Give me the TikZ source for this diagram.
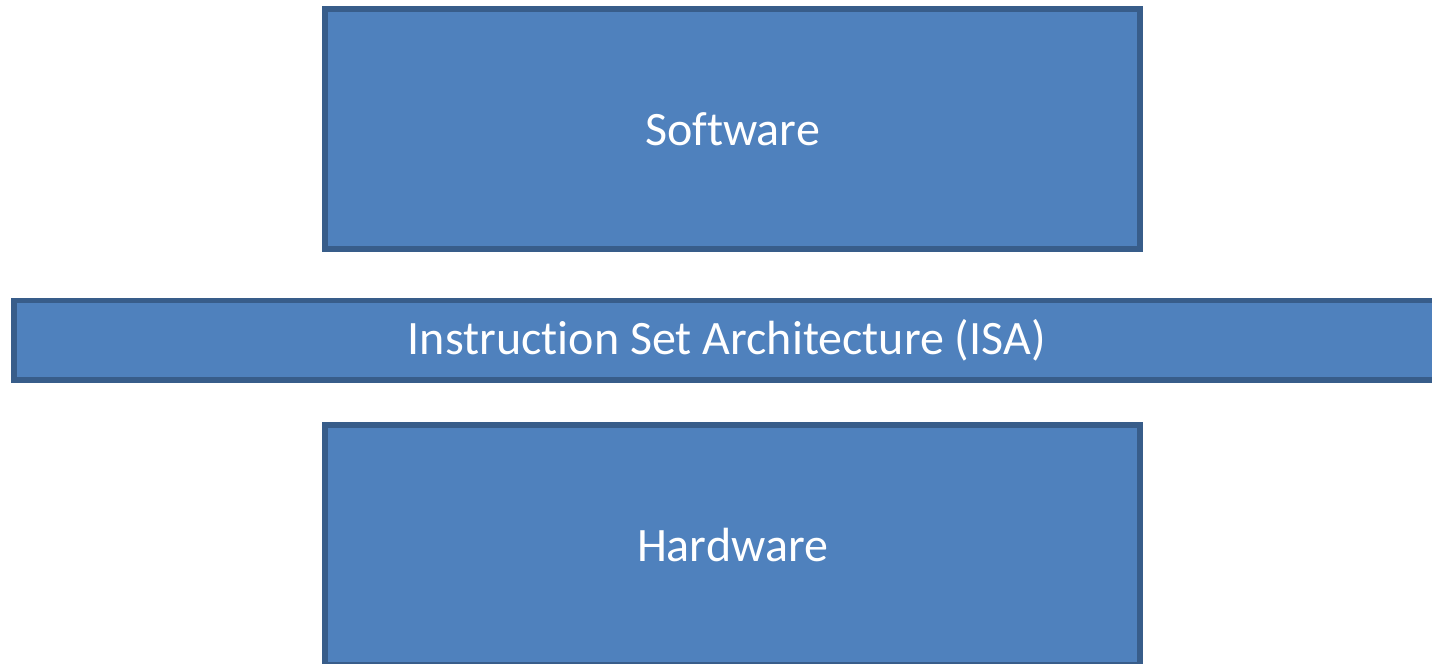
\documentclass[tikz,border=0pt]{standalone}
\usepackage{fontspec}
\setmainfont{Carlito}[Ligatures=NoCommon]
\usetikzlibrary{positioning}

\definecolor{layerfill}{HTML}{4F81BD}
\definecolor{layerline}{HTML}{385D8A}

\tikzset{
  layer/.style={draw=layerline, fill=layerfill, line width=2.75pt,
    text=white, font=\fontsize{24}{29}\selectfont, inner sep=0pt}
}

\begin{document}
\begin{tikzpicture}[x=0.5pt, y=-0.5pt]
\useasboundingbox (0,0) rectangle (1432,664);
\clip (0,0) rectangle (1432,664);
% Software layer
\node[layer, minimum width=407.5pt, minimum height=120pt] (sw) at (732.5,129) {Software};
% ISA band, runs off the right edge
\node[layer, minimum width=713pt, minimum height=39.75pt] (isa) at (726.75,340.25) {Instruction Set Architecture (ISA)};
% Hardware layer
\node[layer, minimum width=407.5pt, minimum height=120pt] (hw) at (732.5,545) {Hardware};
\end{tikzpicture}
\end{document}
